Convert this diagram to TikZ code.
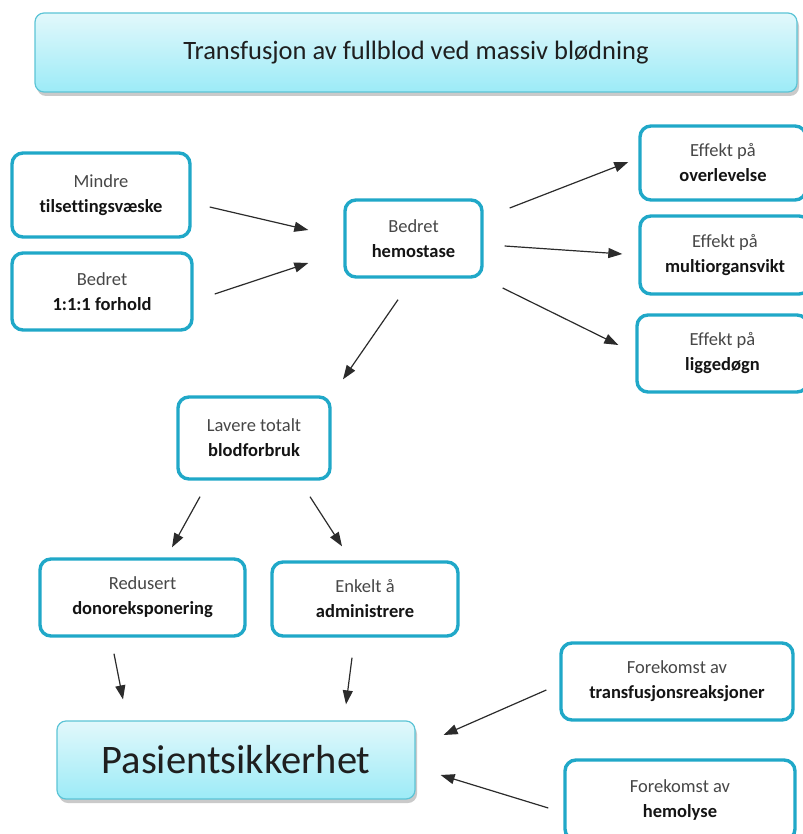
\documentclass[tikz,border=0pt]{standalone}
\usepackage{fontspec}
\setmainfont[Ligatures=NoCommon]{Carlito}
\usetikzlibrary{arrows.meta,shadows}

\definecolor{boxline}{HTML}{20A8C8}
\definecolor{arrowcol}{HTML}{2B2B2B}
\definecolor{topfill}{HTML}{E2F8FB}
\definecolor{botfill}{HTML}{9CEBF7}
\definecolor{bannerline}{HTML}{5CC4D6}

\tikzset{
  factor/.style={draw=boxline, line width=3.4pt, rounded corners=11pt, fill=white,
    align=center, inner sep=0pt, text=black!72,
    font=\fontsize{18.5}{25}\selectfont},
  banner/.style={draw=bannerline, line width=1.2pt, rounded corners=9pt,
    top color=topfill, bottom color=botfill, inner sep=0pt, text=black!88,
    drop shadow={shadow xshift=2pt, shadow yshift=-4pt, opacity=0.35, fill=black!60}},
  arr/.style={draw=arrowcol, line width=1.2pt, -{Triangle[length=14pt,width=10pt]}},
}
\newcommand{\keyword}[1]{\textbf{\color{black!92}#1}}

\begin{document}
\begin{tikzpicture}[x=1pt,y=-1pt]
  \useasboundingbox (0,0) rectangle (802,834);

  % headline
  \node[banner, minimum width=762pt, minimum height=79pt,
        font=\fontsize{26.5}{30}\selectfont] (title) at (416,52.5)
        {Transfusjon av fullblod ved massiv blødning};

  % causes
  \node[factor, minimum width=178pt, minimum height=84pt] (mindre) at (101,195)
        {Mindre\\\keyword{tilsettingsvæske}};
  \node[factor, minimum width=180pt, minimum height=77pt] (forhold) at (102,291.5)
        {Bedret\\\keyword{1:1:1 forhold}};

  % central effect
  \node[factor, minimum width=137pt, minimum height=77pt] (hemo) at (413.5,238.5)
        {Bedret\\\keyword{hemostase}};

  % outcomes
  \node[factor, minimum width=166pt, minimum height=74pt] (overl) at (723,163)
        {Effekt på\\\keyword{overlevelse}};
  \node[factor, minimum width=170pt, minimum height=78pt] (multi) at (725,255)
        {Effekt på\\\keyword{multiorgansvikt}};
  \node[factor, minimum width=171pt, minimum height=77pt] (ligge) at (722.5,353.5)
        {Effekt på\\\keyword{liggedøgn}};

  \node[factor, minimum width=152pt, minimum height=82pt] (lavere) at (254,438)
        {Lavere totalt\\\keyword{blodforbruk}};
  \node[factor, minimum width=205pt, minimum height=77pt] (redusert) at (142.5,597.5)
        {Redusert\\\keyword{donoreksponering}};
  \node[factor, minimum width=186pt, minimum height=74pt] (enkelt) at (365,599)
        {Enkelt å\\\keyword{administrere}};

  \node[factor, minimum width=232pt, minimum height=77pt] (transf) at (677,681.5)
        {Forekomst av\\\keyword{transfusjonsreaksjoner}};
  \node[factor, minimum width=230pt, minimum height=80pt] (hemolyse) at (680,800)
        {Forekomst av\\\keyword{hemolyse}};

  % patient safety
  \node[banner, minimum width=358pt, minimum height=78pt,
        font=\fontsize{40.5}{46}\selectfont] (pasient) at (236,760)
        {Pasientsikkerhet};

  % connectors
  \draw[arr] ([shift={(18,12)}]mindre.east) -- ([shift={(-35,-8.5)}]hemo.west);
  \draw[arr] ([shift={(21,2.5)}]forhold.east) -- ([shift={(-35,24.5)}]hemo.west);
  \draw[arr] ([shift={(26,-30.5)}]hemo.east) -- ([shift={(-10,-1)}]overl.west);
  \draw[arr] ([shift={(21,7.5)}]hemo.east) -- ([shift={(-16,-1)}]multi.west);
  \draw[arr] ([shift={(19,49.5)}]hemo.east) -- ([shift={(-17,-8.5)}]ligge.west);
  \draw[arr] ([shift={(-15.5,21)}]hemo.south) -- ([shift={(89,-16)}]lavere.north);
  \draw[arr] ([shift={(-54,16)}]lavere.south) -- ([shift={(29.5,-10)}]redusert.north);
  \draw[arr] ([shift={(56,16)}]lavere.south) -- ([shift={(-23,-14)}]enkelt.north);
  \draw[arr] ([shift={(-28.5,16)}]redusert.south) -- ([shift={(-113,-21)}]pasient.north);
  \draw[arr] ([shift={(-13,20)}]enkelt.south) -- ([shift={(110,-16)}]pasient.north);
  \draw[arr] ([shift={(-13,8.5)}]transf.west) -- ([shift={(28,-25)}]pasient.east);
  \draw[arr] ([shift={(-15,8)}]hemolyse.west) -- ([shift={(25,15)}]pasient.east);
\end{tikzpicture}
\end{document}
